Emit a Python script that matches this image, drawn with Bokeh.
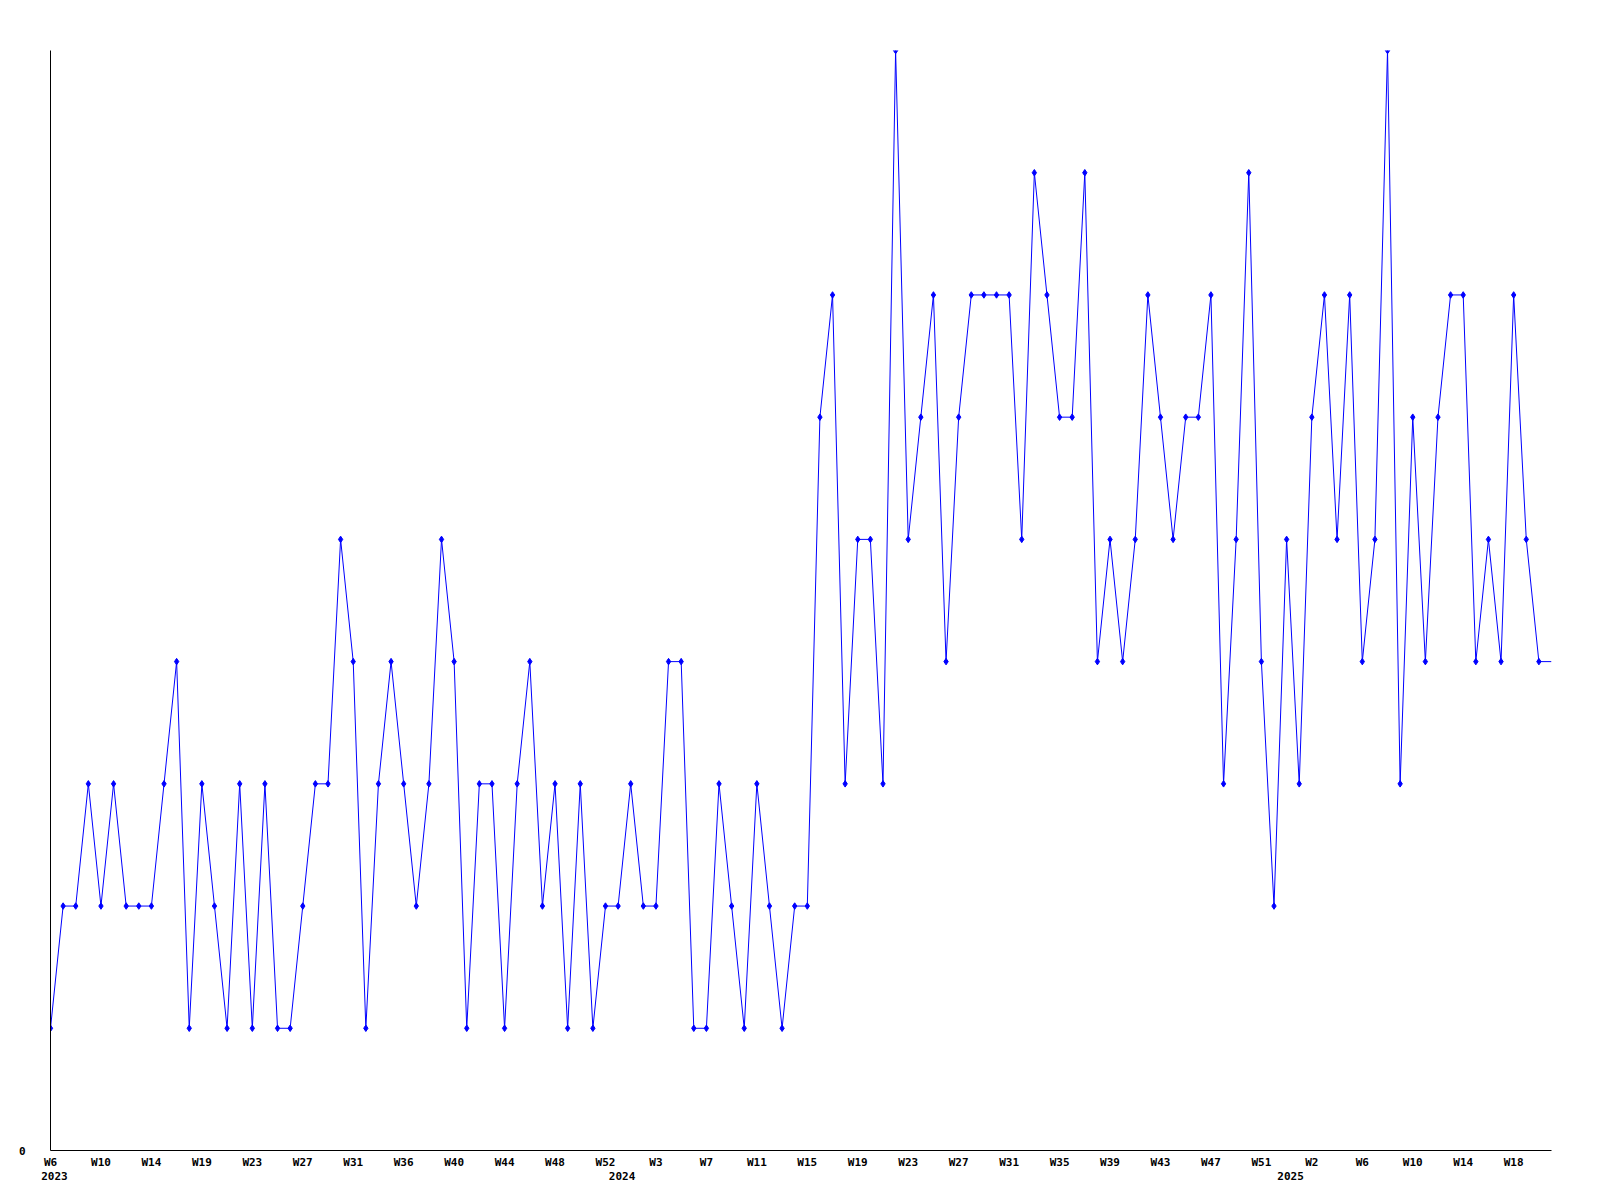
from bokeh.plotting import figure
from bokeh.models import FixedTicker, Range1d, LinearAxis
from bokeh.embed import file_html
from bokeh.resources import INLINE

# weekly counts, one per week starting 2023-W6 (last value is the running week, no marker)
values = [1, 2, 2, 3, 2, 3, 2, 2, 2, 3,
          4, 1, 3, 2, 1, 3, 1, 3, 1, 1,
          2, 3, 3, 5, 4, 1, 3, 4, 3, 2,
          3, 5, 4, 1, 3, 3, 1, 3, 4, 2,
          3, 1, 3, 1, 2, 2, 3, 2, 2, 4,
          4, 1, 1, 3, 2, 1, 3, 2, 1, 2,
          2, 6, 7, 3, 5, 5, 3, 9, 5, 6,
          7, 4, 6, 7, 7, 7, 7, 5, 8, 7,
          6, 6, 8, 4, 5, 4, 5, 7, 6, 5,
          6, 6, 7, 3, 5, 8, 4, 2, 5, 3,
          6, 7, 5, 7, 4, 5, 9, 3, 6, 4,
          6, 7, 7, 4, 5, 4, 7, 5, 4, 4]

week_labels = ["W6", "W10", "W14", "W19", "W23", "W27", "W31", "W36", "W40", "W44",
               "W48", "W52", "W3", "W7", "W11", "W15", "W19", "W23", "W27", "W31",
               "W35", "W39", "W43", "W47", "W51", "W2", "W6", "W10", "W14", "W18"]
label_step = 4
years = ["2023", "2024", "2025"]
year_index = [0, 45, 98]

xs = list(range(len(values)))
marked = len(values) - 1

FONT = "DejaVu Sans Mono"
FRAME_W = 1501
X_UNIT = FRAME_W / (len(values) - 1)

p = figure(width=1592, height=1192, output_backend="svg", toolbar_location=None,
           x_range=Range1d(0, len(values) - 1), y_range=Range1d(0, 9),
           min_border_left=50, min_border_right=41, min_border_top=50, min_border_bottom=42)
p.outline_line_color = None
p.xgrid.visible = False
p.ygrid.visible = False
p.background_fill_color = "white"
p.border_fill_color = "white"

p.line(xs, values, line_color="#0000ff", line_width=1)
p.scatter(xs[:marked], values[:marked], marker="diamond", size=6.5,
          fill_color="#0000ff", line_color="#0000ff")


def style_axis(ax):
    ax.major_tick_line_color = None
    ax.minor_tick_line_color = None
    ax.major_tick_out = 0
    ax.major_tick_in = 0
    ax.major_label_text_font = FONT
    ax.major_label_text_font_style = "bold"
    ax.major_label_text_font_size = "11px"
    ax.major_label_text_color = "black"


tick_pos = [i * label_step for i in range(len(week_labels))]
xa = p.xaxis[0]
style_axis(xa)
xa.ticker = FixedTicker(ticks=tick_pos)
xa.major_label_overrides = {t: lab for t, lab in zip(tick_pos, week_labels)}
xa.major_label_standoff = 5
xa.major_label_text_baseline = "middle"
xa.axis_line_color = "black"
xa.axis_line_width = 1

# year row: labels start ~10px left of their week's point
year_ticks = [i + 4.0 / X_UNIT for i in year_index]
ya2 = LinearAxis(ticker=FixedTicker(ticks=year_ticks),
                 major_label_overrides={t: y for t, y in zip(year_ticks, years)})
style_axis(ya2)
ya2.axis_line_color = None
ya2.major_label_standoff = 0
ya2.major_label_text_baseline = "middle"
p.add_layout(ya2, "below")

ya = p.yaxis[0]
style_axis(ya)
ya.ticker = FixedTicker(ticks=[0])
ya.major_label_standoff = 25
ya.axis_line_color = "black"
ya.axis_line_width = 1

open("out.html", "w").write(file_html(p, INLINE))
